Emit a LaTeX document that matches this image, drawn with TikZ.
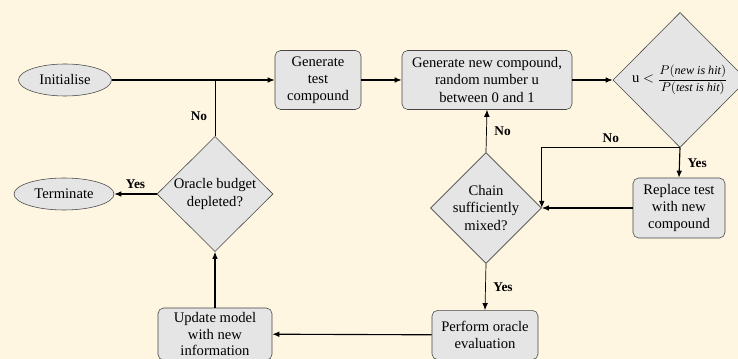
\documentclass[tikz,border=0pt]{standalone}
\usepackage{amsmath}
\usepackage{fontspec}
\setmainfont{Liberation Serif}
\usetikzlibrary{arrows.meta,positioning,shapes.geometric,calc}
\definecolor{paper}{RGB}{255,246,225}
\definecolor{boxfill}{RGB}{229,229,229}
\definecolor{boxline}{RGB}{70,70,70}
\begin{document}
\begin{tikzpicture}[x=0.025cm,y=-0.025cm,
    every node/.style={font=\fontsize{10.4}{12.2}\selectfont},
    stepbox/.style={draw=boxline,fill=boxfill,rounded corners=4pt,align=center,inner sep=1pt},
    termnode/.style={draw=boxline,fill=boxfill,ellipse,inner sep=0pt},
    decide/.style={draw=boxline,fill=boxfill,diamond,align=center,inner sep=0pt},
    arr/.style={-{Latex[length=5pt,width=4pt]},line width=0.8pt},
    thinarr/.style={-{Latex[length=5pt,width=4pt]},line width=0.5pt},
    link/.style={line width=0.5pt},
    answer/.style={font=\fontsize{9.5}{11}\selectfont\bfseries}]

% Background and frame
\fill[paper] (0,0) rectangle (738,359);
\useasboundingbox (0,0) rectangle (738,359);
\clip (0,0) rectangle (738,359);

% Start and stop
\node[termnode,minimum width=2.325cm,minimum height=0.8cm] (init) at (65,80) {Initialise};
\node[termnode,minimum width=2.5cm,minimum height=0.8cm] (term) at (64,194) {Terminate};

% Process boxes
\node[stepbox,minimum width=2.15cm,minimum height=1.475cm] (gentest) at (318,80) {Generate\\test\\compound};
\node[stepbox,minimum width=4.25cm,minimum height=1.475cm] (gennew) at (487,80) {Generate new compound,\\random number u\\between 0 and 1};
\node[stepbox,minimum width=2.3cm,minimum height=1.5cm] (replace) at (679,208) {Replace test\\with new\\compound};
\node[stepbox,minimum width=2.65cm,minimum height=1.23cm] (perform) at (485,335) {Perform oracle\\evaluation};
\node[stepbox,minimum width=2.85cm,minimum height=1.3cm,
      font=\fontsize{10.4}{11.4}\selectfont] (update) at (215,334) {Update model\\with new\\information};

% Decisions
\node[decide,minimum width=3.35cm,minimum height=3.375cm] (accept) at (680,80)
    {u $<$ {\fontsize{8.6}{10}\selectfont$\displaystyle\frac{P(\mathit{new\ is\ hit})}{P(\mathit{test\ is\ hit})}$}};
\node[decide,minimum width=2.7cm,minimum height=2.675cm] (chain) at (486,208) {Chain\\sufficiently\\mixed?};
\node[decide,minimum width=2.9cm,minimum height=2.875cm] (budget) at (215,194) {Oracle budget\\depleted?};

% Junction on the top line
\coordinate (join) at (budget.north |- init.east);

% Connectors
\draw[arr] (init) -- (gentest);
\draw[link] (budget.north) -- (join) node[answer,pos=0.35,left=2pt] {No};
\draw[arr] (gentest) -- (gennew);
\draw[arr] (gennew) -- (accept);
\draw[arr] (accept.south) -- (replace.north) node[answer,midway,right=2pt] {Yes};
\draw[arr] (accept.south) -| (chain.east) node[answer,pos=0.25,above] {No};
\draw[arr] (replace) -- (chain.east);
\draw[thinarr] (chain.north) -- (gennew.south) node[answer,midway,right=2pt] {No};
\draw[thinarr] (chain.south) -- (perform.north) node[answer,midway,right=2pt] {Yes};
\draw[arr] (perform) -- (update);
\draw[arr] (update) -- (budget.south);
\draw[arr] (budget.west) -- (term.east) node[answer,midway,above] {Yes};
\end{tikzpicture}
\end{document}
